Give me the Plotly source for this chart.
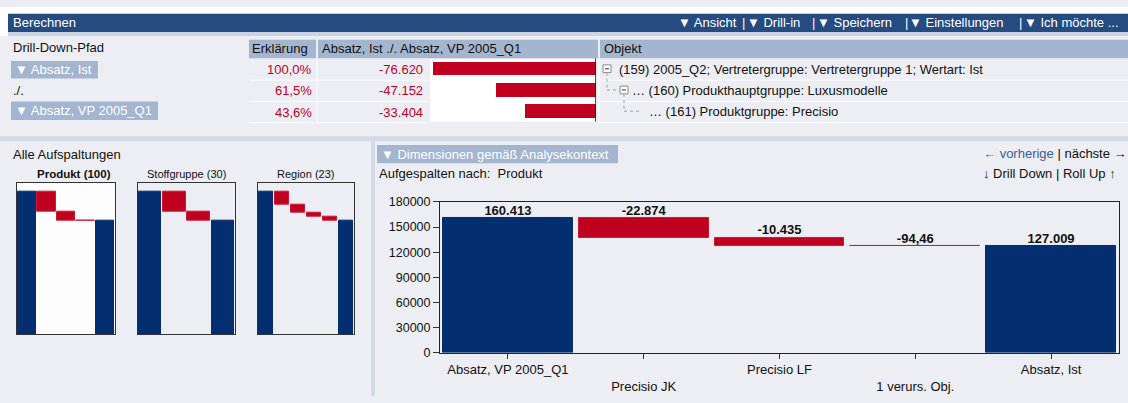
import plotly.graph_objects as go

W, H = 1128, 403

# ---------------- data ----------------
toolbar_items = ["Ansicht", "Drill-in", "Speichern", "Einstellungen", "Ich möchte ..."]
path_labels = ["Absatz, Ist", "./.", "Absatz, VP 2005_Q1"]
expl_pct = [100.0, 61.5, 43.6]
delta_values = [-76620, -47152, -33404]
object_tree = [
    "(159) 2005_Q2; Vertretergruppe: Vertretergruppe 1; Wertart: Ist",
    "… (160) Produkthauptgruppe: Luxusmodelle",
    "… (161) Produktgruppe: Precisio",
]

wf_categories = ["Absatz, VP 2005_Q1", "Precisio JK", "Precisio LF", "1 verurs. Obj.", "Absatz, Ist"]
wf_values = [160413, -22874, -10435, -94.46, 127009]
wf_measure = ["absolute", "relative", "relative", "relative", "total"]
y_ticks = [0, 30000, 60000, 90000, 120000, 150000, 180000]

mini_titles = ["Produkt (100)", "Stoffgruppe (30)", "Region (23)"]
mini_produkt = [160413, -22874, -10435, -94.46, 127009]
mini_stoff = [160413, -22500, -10904, 127009]
mini_region = [160413, -14800, -9200, -4900, -4504, 127009]

# ---------------- style ----------------
UI = "Liberation Sans, Arial, sans-serif"
FS = 13
BG = "#eceef4"
NAVY = "#032f70"
RED = "#c0001f"
REDLINE = "#cc1a36"
HDR = "#254b80"
CELLHDR = "#a4b5d0"
SEP = "#d3dae6"
TXT = "#111111"


def px_x(x):
    return x / W


def px_y(y):
    return 1 - y / H


shapes = []
annotations = []


def rect(x0, y0, x1, y1, fill, line=None, lw=0, layer="below"):
    shapes.append(dict(type="rect", xref="paper", yref="paper",
                       x0=px_x(x0), x1=px_x(x1), y0=px_y(y1), y1=px_y(y0),
                       fillcolor=fill, line=dict(width=lw, color=line or fill), layer=layer))


def seg(x0, y0, x1, y1, color, w=1, dash=None, layer="above"):
    d = dict(type="line", xref="paper", yref="paper",
             x0=px_x(x0), x1=px_x(x1), y0=px_y(y0), y1=px_y(y1),
             line=dict(color=color, width=w), layer=layer)
    if dash:
        d["line"]["dash"] = dash
    shapes.append(d)


def txt(x, y, s, anchor="left", size=FS, color=TXT, family=UI):
    annotations.append(dict(xref="paper", yref="paper", x=px_x(x), y=px_y(y), text=s,
                            xanchor=anchor, yanchor="middle", showarrow=False,
                            font=dict(family=family, size=size, color=color)))


def de_num(v):
    if abs(v) >= 1000:
        return f"{round(v):,}".replace(",", ".")
    return f"{v:.2f}".replace(".", ",")


def waterfall_parts(values, measures):
    bases, heights, colors, lines, tops = [], [], [], [], []
    run = 0
    for v, m in zip(values, measures):
        if m == "absolute":
            b, h = 0, v
            run = v
        elif m == "relative":
            b, h = run, v
            run += v
        else:
            b, h = 0, v
        bases.append(b)
        heights.append(h)
        colors.append(RED if m == "relative" else NAVY)
        lines.append(REDLINE if m == "relative" else NAVY)
        tops.append(max(b, b + h))
    return bases, heights, colors, lines, tops


# ---------------- UI frame ----------------
rect(0, 0, W, 7, "#ffffff")
rect(0, 7, 8, 30, "#ffffff")
rect(8, 7, W, 26, HDR)
rect(8, 26, W, 30, "#c9d3e1")
txt(11, 16.5, "Berechnen", color="#ffffff")

tb_left = [678, 747, 817, 909, 1024]
tb_bar = [743, 813, 906, 1020]
for item, x in zip(toolbar_items, tb_left):
    txt(x - 2, 16.5, "▼ " + item, color="#ffffff")
for x in tb_bar:
    txt(x, 16.5, "|", anchor="center", color="#ffffff")

# top table
txt(11, 42, "Drill-Down-Pfad")
rect(249, 34, 316, 53, CELLHDR)
rect(318, 34, 598, 53, CELLHDR)
rect(600, 34, W, 53, CELLHDR)
txt(250, 43.5, "Erklärung")
txt(320, 43.5, "Absatz, Ist ./. Absatz, VP 2005_Q1")
txt(602, 43.5, "Objekt")

rect(430, 54, 596, 119, "#ffffff")
for r in range(3):
    yb = 76 + 22 * r
    seg(249, yb, 428, yb, "#f7f8fb", 1.5)
    seg(598, yb, W, yb, "#f7f8fb", 1.5)
seg(317, 54, 317, 119, "#f7f8fb", 1.5)
seg(599, 54, 599, 119, "#f7f8fb", 1.5)

row_y = [65, 87, 109]
for yc, p, d in zip(row_y, expl_pct, delta_values):
    txt(314, yc, f"{p:.1f}%".replace(".", ","), anchor="right", color=RED)
    txt(425, yc, de_num(d), anchor="right", color=RED)

# drill path labels
rect(11, 56, 98, 74, CELLHDR)
rect(11, 98, 158, 117, CELLHDR)
txt(13, 65, "▼ " + path_labels[0], color="#ffffff")
txt(11, 87, path_labels[1])
txt(13, 107.5, "▼ " + path_labels[2], color="#ffffff")

# object tree
for (ix, iy) in [(603, 64), (620, 86)]:
    rect(ix, iy - 4, ix + 8, iy + 4, "#ffffff", line="#8a8a8a", lw=1, layer="above")
    seg(ix + 2, iy, ix + 6, iy, "#333333", 1)
seg(607, 68, 607, 86, "#a0a0a0", 1, "dot")
seg(607, 86, 620, 86, "#a0a0a0", 1, "dot")
seg(624, 90, 624, 108, "#a0a0a0", 1, "dot")
seg(624, 108, 641, 108, "#a0a0a0", 1, "dot")
txt(617, 64.5, object_tree[0])
txt(630, 86.5, object_tree[1])
txt(647, 108.5, object_tree[2])

# separators
rect(0, 134, W, 139, SEP)
rect(371, 139, 375, H, SEP)

# lower left
txt(11, 153, "Alle Aufspaltungen")
mini_boxes = [(17, 115), (138, 235), (258, 354)]
title_cx = [74, 186, 305]
rect(17, 182, 115, 339, "#fdfdfd")
for i, (t, cx) in enumerate(zip(mini_titles, title_cx)):
    s = f"<b>{t}</b>" if i == 0 else t
    txt(cx, 173, s, anchor="center", size=11.5 if i == 0 else 11)

# main panel texts
rect(377, 143, 618, 162, CELLHDR)
txt(379, 152.5, "▼ Dimensionen gemäß Analysekontext", color="#ffffff")
txt(377, 173, "Aufgespalten nach:  Produkt")
txt(1129, 152, "<span style='color:#5a6f95'>← </span><span style='color:#3c5c96'>vorherige</span> | nächste →",
    anchor="right")
txt(1118, 173, "↓ Drill Down | Roll Up ↑", anchor="right")

# ---------------- traces ----------------
fig = go.Figure()

b, h, c, lc, tops = waterfall_parts(wf_values, wf_measure)
xs = list(range(len(wf_categories)))
fig.add_trace(go.Bar(x=xs, y=h, base=b, width=0.955,
                     marker=dict(color=c, line=dict(color=lc, width=1)),
                     xaxis="x", yaxis="y", hoverinfo="skip"))
fig.add_trace(go.Scatter(x=xs, y=tops, mode="text",
                         text=[f"<b>{de_num(v)}</b>" for v in wf_values],
                         textposition="top center",
                         textfont=dict(family=UI, size=13, color="#111111"),
                         cliponaxis=False, xaxis="x", yaxis="y", hoverinfo="skip"))

mini_sets = [mini_produkt, mini_stoff, mini_region]
for k, vals in enumerate(mini_sets):
    meas = ["absolute"] + ["relative"] * (len(vals) - 2) + ["total"]
    mb, mh, mc, mlc, _ = waterfall_parts(vals, meas)
    ax = str(k + 2)
    fig.add_trace(go.Bar(x=list(range(len(vals))), y=mh, base=mb, width=0.93,
                         marker=dict(color=mc, line=dict(color=mlc, width=1)),
                         xaxis="x" + ax, yaxis="y" + ax, hoverinfo="skip"))

fig.add_trace(go.Bar(x=delta_values, y=[0, 1, 2], orientation="h", width=0.64,
                     marker=dict(color=RED, line=dict(width=0)),
                     xaxis="x5", yaxis="y5", hoverinfo="skip"))
shapes.append(dict(type="line", xref="x5", yref="y5 domain", x0=0, x1=0, y0=0, y1=1,
                   line=dict(color="#111111", width=1.5), layer="above"))

# ---------------- layout ----------------
ticktext = [("<br>" + t) if i % 2 == 1 else t for i, t in enumerate(wf_categories)]

layout = dict(
    width=W, height=H, margin=dict(l=0, r=0, t=0, b=0),
    paper_bgcolor=BG, plot_bgcolor="rgba(0,0,0,0)",
    showlegend=False, bargap=0,
    font=dict(family=UI, size=12, color=TXT),
    xaxis=dict(domain=[px_x(440), px_x(1119)], range=[-0.5, len(wf_categories) - 0.5],
               tickvals=xs, ticktext=ticktext, ticks="outside", ticklen=5, tickcolor="#333",
               showline=True, mirror=True, linecolor="#222", linewidth=1,
               showgrid=False, zeroline=False, anchor="y",
               tickfont=dict(family=UI, size=13, color="#111")),
    yaxis=dict(domain=[px_y(358), px_y(202)], range=[0, 180000], tickvals=y_ticks,
               tickformat="d", ticks="outside", ticklen=6, tickcolor="#333",
               showline=True, mirror=True, linecolor="#222", linewidth=1,
               showgrid=False, zeroline=False, anchor="x",
               tickfont=dict(family=UI, size=12.5, color="#111")),
    shapes=shapes, annotations=annotations,
)

for k, (x0, x1) in enumerate(mini_boxes):
    n = len(mini_sets[k])
    ax = str(k + 2)
    layout["xaxis" + ax] = dict(domain=[px_x(x0), px_x(x1)], range=[-0.5, n - 0.5],
                                showticklabels=False, ticks="", showgrid=False, zeroline=False,
                                showline=True, mirror=True, linecolor="#333", linewidth=1,
                                anchor="y" + ax)
    layout["yaxis" + ax] = dict(domain=[px_y(339), px_y(182)], range=[0, 170000],
                                showticklabels=False, ticks="", showgrid=False, zeroline=False,
                                showline=True, mirror=True, linecolor="#333", linewidth=1,
                                anchor="x" + ax)

layout["xaxis5"] = dict(domain=[px_x(430), px_x(596)], range=[-78000, 0], visible=False,
                        anchor="y5")
layout["yaxis5"] = dict(domain=[px_y(119), px_y(53)], range=[2.5, -0.5], visible=False,
                        anchor="x5")

fig.update_layout(**layout)
fig.write_html("out.html", config={"displayModeBar": False},
               post_script="document.body.style.margin='0';")
